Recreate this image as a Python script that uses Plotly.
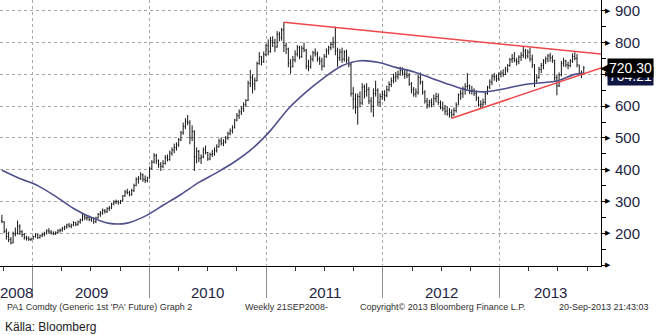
import pandas as pd
import plotly.graph_objects as go

# PA1 Comdty (generic 1st palladium future), weekly bars ending Fridays
first_week = "2008-09-26"

bar_open = [
    # 2008
    240, 236, 206, 190, 180, 170, 198, 200, 222, 205, 196, 186, 184, 180,
    # 2009
    182, 190, 195, 186, 192, 196, 200, 208, 204, 200, 198, 202, 208, 210, 216, 220, 226, 222, 226, 234,
    228, 236, 242, 254, 248, 250, 244, 248, 236, 248, 260, 264, 272, 268, 278, 280, 292, 298, 300, 296,
    302, 318, 330, 328, 322, 334, 350, 370, 372, 384, 370, 366,
    # 2010
    374, 404, 424, 444, 428, 416, 410, 420, 438, 432, 452, 462, 470, 478, 494, 516, 536, 552, 548, 500,
    520, 440, 458, 436, 440, 462, 454, 434, 448, 450, 460, 472, 490, 482, 488, 500, 514, 522, 532, 556,
    570, 582, 592, 604, 618, 672, 690, 670, 680, 734, 756, 740, 762,
    # 2011
    790, 772, 806, 800, 786, 826, 816, 840, 790, 780, 736, 724, 746, 764, 784, 756, 782, 776, 726, 724,
    748, 768, 764, 748, 742, 726, 756, 774, 784, 794, 800, 774, 752, 770, 748, 770, 746, 730, 640, 622,
    596, 630, 610, 660, 646, 652, 616, 600, 640, 650, 612, 630,
    # 2012
    636, 634, 652, 668, 680, 690, 694, 700, 712, 704, 700, 696, 670, 652, 638, 644, 690, 676, 644, 616,
    604, 612, 606, 624, 630, 612, 596, 592, 584, 576, 580, 574, 586, 604, 636, 640, 654, 662, 664, 646,
    650, 640, 626, 604, 606, 612, 640, 660, 676, 694, 692, 686,
    # 2013
    700, 704, 700, 716, 728, 746, 750, 744, 740, 754, 760, 774, 758, 770, 748, 730, 680, 690, 716, 728,
    742, 748, 758, 752, 744, 690, 664, 698, 734, 742, 730, 728, 742, 756, 750, 730, 704, 700,
]

bar_high = [
    # 2008
    258, 238, 215, 205, 188, 205, 218, 240, 228, 210, 200, 192, 190, 186,
    # 2009
    192, 200, 198, 196, 202, 205, 212, 216, 210, 206, 206, 212, 215, 220, 224, 230, 232, 230, 238, 236,
    240, 246, 262, 260, 256, 255, 252, 250, 252, 264, 270, 278, 276, 282, 286, 296, 304, 306, 304, 305,
    320, 336, 340, 334, 340, 356, 376, 380, 392, 388, 382, 378,
    # 2010
    410, 430, 452, 450, 432, 424, 430, 446, 448, 460, 470, 482, 486, 500, 522, 548, 562, 572, 556, 540,
    524, 470, 462, 448, 470, 476, 456, 454, 462, 470, 480, 498, 502, 496, 506, 520, 530, 540, 560, 578,
    590, 600, 612, 622, 680, 714, 700, 690, 740, 770, 758, 772, 796,
    # 2011
    810, 818, 820, 812, 836, 834, 846, 864, 800, 784, 748, 758, 776, 792, 790, 790, 800, 780, 746, 760,
    774, 782, 772, 756, 752, 764, 782, 790, 802, 818, 850, 784, 780, 784, 776, 778, 756, 736, 660, 640,
    640, 646, 672, 668, 672, 660, 628, 656, 680, 656, 640, 648,
    # 2012
    650, 664, 678, 690, 702, 708, 712, 724, 722, 716, 716, 704, 676, 660, 656, 700, 706, 680, 650, 626,
    620, 624, 636, 642, 640, 618, 614, 604, 600, 594, 590, 596, 612, 640, 652, 662, 672, 704, 668, 664,
    656, 650, 630, 618, 624, 646, 664, 684, 700, 704, 700, 706,
    # 2013
    712, 716, 724, 732, 752, 764, 770, 752, 760, 770, 786, 780, 778, 784, 762, 732, 700, 724, 736, 748,
    756, 764, 768, 760, 746, 700, 706, 742, 752, 746, 740, 748, 766, 770, 764, 730, 712, 726,
]

bar_low = [
    # 2008
    232, 200, 180, 172, 165, 168, 190, 196, 195, 188, 180, 177, 176, 176,
    # 2009
    180, 186, 182, 184, 188, 190, 196, 200, 196, 194, 195, 198, 202, 205, 210, 214, 218, 216, 222, 222,
    224, 230, 238, 242, 240, 238, 236, 230, 232, 246, 252, 258, 262, 264, 270, 276, 288, 292, 290, 292,
    300, 314, 322, 316, 318, 330, 348, 356, 368, 362, 358, 360,
    # 2010
    372, 400, 420, 418, 406, 396, 405, 416, 426, 428, 444, 452, 460, 472, 490, 510, 528, 540, 480, 490,
    396, 420, 424, 418, 436, 448, 428, 430, 440, 444, 454, 470, 476, 474, 482, 494, 508, 514, 530, 552,
    560, 572, 582, 598, 616, 660, 640, 650, 678, 730, 728, 736, 758,
    # 2011
    760, 768, 786, 770, 784, 804, 806, 770, 764, 722, 702, 722, 738, 756, 748, 752, 770, 716, 710, 718,
    740, 756, 740, 730, 712, 722, 752, 762, 776, 782, 760, 724, 742, 736, 740, 736, 722, 630, 590, 576,
    542, 596, 604, 624, 630, 606, 580, 566, 630, 600, 598, 620,
    # 2012
    616, 628, 646, 660, 672, 676, 684, 696, 696, 686, 688, 664, 640, 630, 628, 636, 668, 636, 608, 592,
    596, 596, 602, 612, 604, 590, 584, 572, 570, 564, 562, 568, 580, 604, 620, 626, 636, 652, 638, 636,
    632, 616, 598, 592, 598, 604, 636, 654, 666, 680, 676, 680,
    # 2013
    690, 692, 698, 706, 724, 736, 738, 728, 732, 742, 752, 748, 750, 740, 720, 660, 672, 686, 704, 716,
    732, 738, 740, 736, 680, 634, 660, 694, 724, 722, 716, 722, 736, 744, 722, 696, 688, 698,
]

bar_close = [
    # 2008
    236, 206, 190, 180, 170, 198, 200, 222, 205, 196, 186, 184, 180, 182,
    # 2009
    190, 195, 186, 192, 196, 200, 208, 204, 200, 198, 202, 208, 210, 216, 220, 226, 222, 226, 234, 228,
    236, 242, 254, 248, 250, 244, 248, 236, 248, 260, 264, 272, 268, 278, 280, 292, 298, 300, 296, 302,
    318, 330, 328, 322, 334, 350, 370, 372, 384, 370, 366, 374,
    # 2010
    404, 424, 444, 428, 416, 410, 420, 438, 432, 452, 462, 470, 478, 494, 516, 536, 552, 548, 500, 520,
    440, 458, 436, 440, 462, 454, 434, 448, 450, 460, 472, 490, 482, 488, 500, 514, 522, 532, 556, 570,
    582, 592, 604, 618, 672, 690, 670, 680, 734, 756, 740, 762, 790,
    # 2011
    772, 806, 800, 786, 826, 816, 840, 790, 780, 736, 724, 746, 764, 784, 756, 782, 776, 726, 724, 748,
    768, 764, 748, 742, 726, 756, 774, 784, 794, 800, 774, 752, 770, 748, 770, 746, 730, 640, 622, 596,
    630, 610, 660, 646, 652, 616, 600, 640, 650, 612, 630, 636,
    # 2012
    634, 652, 668, 680, 690, 694, 700, 712, 704, 700, 696, 670, 652, 638, 644, 690, 676, 644, 616, 604,
    612, 606, 624, 630, 612, 596, 592, 584, 576, 580, 574, 586, 604, 636, 640, 654, 662, 664, 646, 650,
    640, 626, 604, 606, 612, 640, 660, 676, 694, 692, 686, 700,
    # 2013
    704, 700, 716, 728, 746, 750, 744, 740, 754, 760, 774, 758, 770, 748, 730, 680, 690, 716, 728, 742,
    748, 758, 752, 744, 690, 664, 698, 734, 742, 730, 728, 742, 756, 750, 730, 704, 700, 720.30,
]

# Moving average, sampled every 8 weeks (week number counted from first_week)
ma_week = [0, 8, 16, 24, 32, 40, 48, 56, 64, 72, 80, 88, 96, 104, 112, 120, 128, 136, 144,
           152, 160, 168, 176, 184, 192, 200, 208, 216, 224, 232, 240, 248, 256, 260]
ma_value = [398, 372, 350, 316, 278, 250, 231, 232, 254, 288, 322, 360, 391, 425, 467, 523, 592,
            645, 690, 727, 743, 738, 722, 708, 688, 668, 650, 645, 654, 666, 673, 679, 700, 704.21]

# Triangle trend lines
upper_dates = ["2011-02-25", "2013-11-13"]
upper_values = [864, 764]
lower_dates = ["2012-08-03", "2013-11-13"]
lower_values = [562, 720]

x_range = ["2008-09-20", "2013-11-13"]
y_ticks = [100, 200, 300, 400, 500, 600, 700, 800, 900]
y_labels = ["", "200", "300", "400", "500", "600", "", "800", "900"]
y_range = [97, 934]
years = [2008, 2009, 2010, 2011, 2012, 2013]

footer_left = "PA1 Comdty (Generic 1st 'PA' Future) Graph 2"
footer_mid = "Weekly 21SEP2008-"
footer_copy = "Copyright\u00a9 2013 Bloomberg Finance L.P."
footer_stamp = "20-Sep-2013 21:43:03"
source_note = "K\u00e4lla: Bloomberg"

NARROW = "Liberation Sans Narrow, Arial Narrow, Liberation Sans, sans-serif"
SMALL = "Liberation Sans, Arial, sans-serif"
LABEL_COLOR = "#1c2442"

dates = pd.date_range(first_week, periods=len(bar_close), freq="W-FRI")
ma_dates = pd.to_datetime(first_week) + pd.to_timedelta([7 * w for w in ma_week], unit="D")

fig = go.Figure()

fig.add_trace(go.Ohlc(
    x=dates, open=bar_open, high=bar_high, low=bar_low, close=bar_close,
    increasing=dict(line=dict(color="#161616", width=1)),
    decreasing=dict(line=dict(color="#161616", width=1)),
    tickwidth=0.35, hoverinfo="skip",
))

fig.add_trace(go.Scatter(
    x=ma_dates, y=ma_value, mode="lines",
    line=dict(color="#4f4f8c", width=1.6, shape="spline", smoothing=0.8),
    hoverinfo="skip",
))

for tx, ty in ((upper_dates, upper_values), (lower_dates, lower_values)):
    fig.add_trace(go.Scatter(
        x=tx, y=ty, mode="lines",
        line=dict(color="#f0484a", width=1.5),
        hoverinfo="skip",
    ))

annotations = []

# year labels centred on the visible part of each year
lo, hi = pd.Timestamp(x_range[0]), pd.Timestamp(x_range[1])
for yr in years:
    a = max(lo, pd.Timestamp(f"{yr}-01-01"))
    b = min(hi, pd.Timestamp(f"{yr + 1}-01-01"))
    annotations.append(dict(
        x=a + (b - a) / 2, y=0, xref="x", yref="paper", text=str(yr),
        showarrow=False, yanchor="middle", yshift=-26,
        font=dict(family=NARROW, size=15, color=LABEL_COLOR),
    ))

# arrow heads on the price-axis ticks
for v in y_ticks:
    annotations.append(dict(
        x=1, y=v, xref="paper", yref="y", text="\u25b6", showarrow=False,
        xanchor="left", xshift=3, borderpad=0,
        font=dict(family="DejaVu Sans", size=7, color="#000000"),
    ))

# last-value tags: moving average underneath, last close on top
annotations.append(dict(
    x=1, y=ma_value[-1], xref="paper", yref="y", text=f"{ma_value[-1]:.2f}",
    showarrow=False, xanchor="left", xshift=6, yshift=-3, borderpad=1,
    bgcolor="#101642", font=dict(family=NARROW, size=14, color="#ffffff"),
))
annotations.append(dict(
    x=1, y=bar_close[-1], xref="paper", yref="y", text="\u25c0", showarrow=False,
    xanchor="left", xshift=-2, borderpad=0,
    font=dict(family="DejaVu Sans", size=13, color="#000000"),
))
annotations.append(dict(
    x=1, y=bar_close[-1], xref="paper", yref="y", text=f"{bar_close[-1]:.2f}",
    showarrow=False, xanchor="left", xshift=6, borderpad=1,
    bgcolor="#000000", font=dict(family=NARROW, size=14, color="#ffffff"),
))

# footer
for txt, px in ((footer_left, 5), (footer_mid, 243), (footer_copy, 358), (footer_stamp, 557)):
    annotations.append(dict(
        x=px / 601, y=0, xref="paper", yref="paper", text=txt, showarrow=False,
        xanchor="left", yanchor="middle", yshift=-41,
        font=dict(family=SMALL, size=9, color="#303030"),
    ))
annotations.append(dict(
    x=3 / 601, y=0, xref="paper", yref="paper", text=source_note, showarrow=False,
    xanchor="left", yanchor="middle", yshift=-61,
    font=dict(family=NARROW, size=12, color="#1a1a1a"),
))

fig.update_layout(
    width=656, height=335,
    margin=dict(l=0, r=55, t=0, b=69),
    paper_bgcolor="#ffffff", plot_bgcolor="#ffffff",
    showlegend=False,
    annotations=annotations,
    xaxis=dict(
        type="date", range=x_range,
        rangeslider=dict(visible=False),
        tick0="2009-01-01", dtick="M12",
        showticklabels=False,
        ticks="outside", ticklen=31, tickcolor="#8c8c8c", tickwidth=1,
        showgrid=True, gridcolor="#a8a8a8", griddash="dot", gridwidth=1,
        showline=True, linecolor="#000000", linewidth=1,
        minor=dict(dtick="M3", tick0="2009-01-01", ticks="outside", ticklen=4,
                   tickcolor="#333333", showgrid=False),
        zeroline=False,
    ),
    yaxis=dict(
        side="right", range=y_range,
        tickmode="array", tickvals=y_ticks, ticktext=y_labels,
        ticks="outside", ticklen=5, tickcolor="#000000",
        ticklabelstandoff=5,
        tickfont=dict(family=NARROW, size=15, color=LABEL_COLOR),
        showgrid=True, gridcolor="#a8a8a8", griddash="dot", gridwidth=1,
        showline=True, linecolor="#000000", linewidth=1,
        minor=dict(dtick=50, tick0=0, ticks="outside", ticklen=4,
                   tickcolor="#000000", showgrid=False),
        zeroline=False,
    ),
)

fig.write_html("out.html")
